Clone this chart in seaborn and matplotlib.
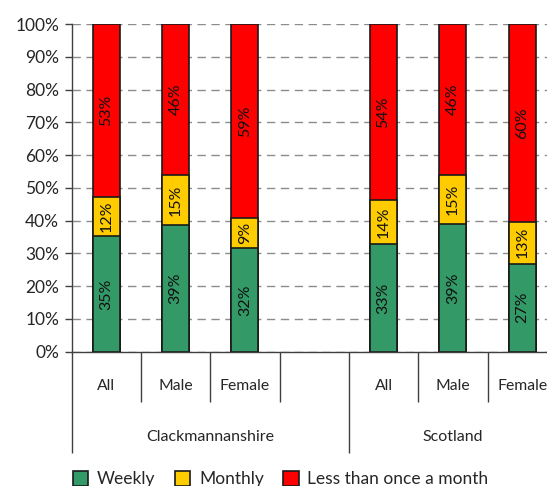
import pandas as pd
import matplotlib.pyplot as plt
import seaborn as sns
from matplotlib.patches import Patch

# Data
slots = ["Clack All", "Clack Male", "Clack Female", "gap", "Scot All", "Scot Male", "Scot Female"]
keys = ["Clack All", "Clack Male", "Clack Female", "Scot All", "Scot Male", "Scot Female"]
sub_labels = ["All", "Male", "Female", "", "All", "Male", "Female"]
groups = ["Clackmannanshire", "Scotland"]
weekly = [35.3, 38.6, 31.7, 32.8, 39.0, 26.9]
monthly = [12.0, 15.3, 9.2, 13.6, 14.9, 12.7]
less = [52.7, 46.1, 59.1, 53.6, 46.1, 60.4]
series = ["Weekly", "Monthly", "Less than once a month"]
colors = ["#339966", "#FFCC00", "#FF0000"]

df = pd.DataFrame({"key": keys, "Weekly": weekly, "Monthly": monthly,
                   "Less than once a month": less})
df["top_weekly"] = df["Weekly"]
df["top_monthly"] = df["Weekly"] + df["Monthly"]
df["top_less"] = df["top_monthly"] + df["Less than once a month"]

sns.set_theme(style="white")
plt.rcParams["font.family"] = ["Lato", "DejaVu Sans"]

fig = plt.figure(figsize=(5.47, 4.86), dpi=100)
ax = fig.add_axes([0.131, 0.2763, 0.887, 0.6743])

# stacked bars drawn as overlays, tallest first
for col, c in zip(["top_less", "top_monthly", "top_weekly"], colors[::-1]):
    sns.barplot(data=df, x="key", y=col, order=slots, color=c, saturation=1,
                width=0.39, edgecolor="#1a1a1a", linewidth=1.2, ax=ax)

# segment labels
for i, k in enumerate(keys):
    xpos = slots.index(k)
    bottom = 0
    for s in series:
        v = df.loc[i, s]
        ax.text(xpos, bottom + v / 2, f"{v:.0f}%", rotation=90, ha="center",
                va="center", fontsize=11.5, color="#111111")
        bottom += v

ax.set_ylim(0, 100)
ax.set_xlim(-0.5, 6.5)
ax.set_yticks(range(0, 101, 10))
ax.set_yticklabels([f"{v}%" for v in range(0, 101, 10)], fontsize=12.5)
ax.yaxis.grid(True, linestyle=(0, (6, 4)), color="#8c8c8c", linewidth=1)
ax.set_axisbelow(True)
ax.set_xlabel("")
ax.set_ylabel("")

for sp in ["top", "right"]:
    ax.spines[sp].set_visible(False)
for sp in ["left", "bottom"]:
    ax.spines[sp].set_color("#404040")
    ax.spines[sp].set_linewidth(1)

ax.tick_params(axis="y", left=True, length=5, width=1, color="#404040", pad=4)
# category separators as ticks
ax.set_xticks([-0.5, 3.5, 6.5])
ax.set_xticklabels(["", "", ""])
ax.set_xticks([0.5, 1.5, 2.5, 4.5, 5.5], minor=True)
ax.tick_params(axis="x", which="major", bottom=True, length=72.5, width=1, color="#404040")
ax.tick_params(axis="x", which="minor", bottom=True, length=36, width=1, color="#404040")

trans = ax.get_xaxis_transform()
for i, lab in enumerate(sub_labels):
    ax.text(i, -0.104, lab, transform=trans, ha="center", va="center", fontsize=11.3)
ax.text(1.5, -0.26, groups[0], transform=trans, ha="center", va="center", fontsize=11.5)
ax.text(5.0, -0.26, groups[1], transform=trans, ha="center", va="center", fontsize=11.5)

handles = [Patch(facecolor=c, edgecolor="#1a1a1a", linewidth=1.2) for c in colors]
fig.legend(handles, series, loc="center", bbox_to_anchor=(0.513, 0.014), ncol=3,
           frameon=False, fontsize=12.5, handlelength=0.9, handleheight=0.9,
           handletextpad=0.5, columnspacing=1.1, borderaxespad=0)

fig.savefig("out.png", dpi=100)
